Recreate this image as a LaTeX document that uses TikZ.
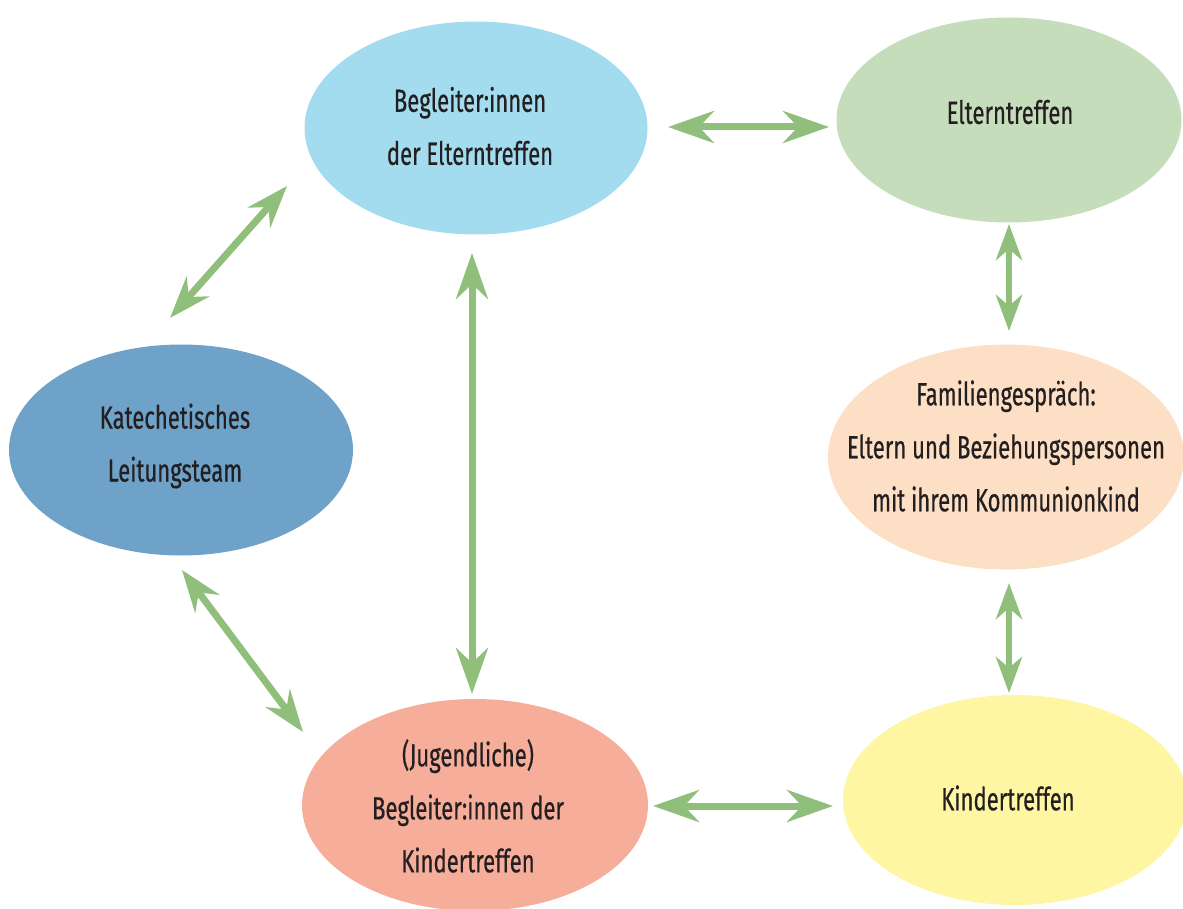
\documentclass[tikz,border=0pt]{standalone}
\usepackage{fontspec}
\setmainfont{Fira Sans}[FakeStretch=0.69,FakeBold=0.5]
\usetikzlibrary{arrows.meta,shapes.geometric}
\definecolor{arrowgreen}{HTML}{90BF7B}
\definecolor{skyblue}{HTML}{A3DCEF}
\definecolor{sagegreen}{HTML}{C5DDBA}
\definecolor{steelblue}{HTML}{6FA2C8}
\definecolor{peach}{HTML}{FCDFC4}
\definecolor{salmon}{HTML}{F6AD99}
\definecolor{paleyellow}{HTML}{FEF6A2}
\definecolor{textdark}{HTML}{231F20}
\begin{document}
\begin{tikzpicture}[x=1pt,y=-1pt,
  blob/.style={ellipse, inner sep=0pt, draw=none},
  lbl/.style={align=center, inner sep=0pt, font=\fontsize{32pt}{53pt}\selectfont, text=textdark},
  biglink/.style={draw=arrowgreen, line width=7pt,
    {Stealth[length=46pt,width=32pt,inset=15pt]}-{Stealth[length=46pt,width=32pt,inset=15pt]}},
  midlink/.style={draw=arrowgreen, line width=7pt,
    {Stealth[length=42pt,width=30pt,inset=14pt]}-{Stealth[length=42pt,width=30pt,inset=14pt]}},
  smalllink/.style={draw=arrowgreen, line width=6.5pt,
    {Stealth[length=36pt,width=26pt,inset=11pt]}-{Stealth[length=36pt,width=26pt,inset=11pt]}}]
\useasboundingbox (0,0) rectangle (1183,909);

% ellipses
\node[blob, fill=skyblue, minimum width=343pt, minimum height=213pt] (be) at (476,128) {};
\node[blob, fill=sagegreen, minimum width=345pt, minimum height=205pt] (et) at (1009,120) {};
\node[blob, fill=steelblue, minimum width=344pt, minimum height=211pt] (kl) at (181,450) {};
\node[blob, fill=peach, minimum width=356pt, minimum height=225pt] (fg) at (1006,457) {};
\node[blob, fill=salmon, minimum width=346pt, minimum height=212pt] (bk) at (475,805) {};
\node[blob, fill=paleyellow, minimum width=344pt, minimum height=210pt] (kt) at (1015,800) {};

% labels
\node[lbl] (tbe) at (470,126) {Begleiter:innen\\der Elterntreffen};
\node[lbl] (tet) at (1010,112) {Elterntreffen};
\node[lbl] (tkl) at (175,446) {Katechetisches\\Leitungsteam};
\node[lbl] (tfg) at (1006,446) {Familiengespräch:\\Eltern und Beziehungspersonen\\mit ihrem Kommunionkind};
\node[lbl] (tbk) at (468,806) {(Jugendliche)\\Begleiter:innen der\\Kindertreffen};
\node[lbl] (tkt) at (1008,798) {Kindertreffen};

% connector ends
\coordinate (a1s) at (668,127);  \coordinate (a1e) at (829,127);
\coordinate (a2s) at (170,318);  \coordinate (a2e) at (287,186);
\coordinate (a3s) at (472,253);  \coordinate (a3e) at (472,694);
\coordinate (a4s) at (1009,224); \coordinate (a4e) at (1009,331);
\coordinate (a5s) at (1009,583); \coordinate (a5e) at (1009,693);
\coordinate (a6s) at (653,806);  \coordinate (a6e) at (833,806);
\coordinate (a7s) at (182,570);  \coordinate (a7e) at (303,732);

% connectors
\draw[biglink] (a1s) -- (a1e);
\draw[midlink] (a2s) -- (a2e);
\draw[biglink] (a3s) -- (a3e);
\draw[smalllink] (a4s) -- (a4e);
\draw[smalllink] (a5s) -- (a5e);
\draw[biglink] (a6s) -- (a6e);
\draw[midlink] (a7s) -- (a7e);
\end{tikzpicture}
\end{document}
